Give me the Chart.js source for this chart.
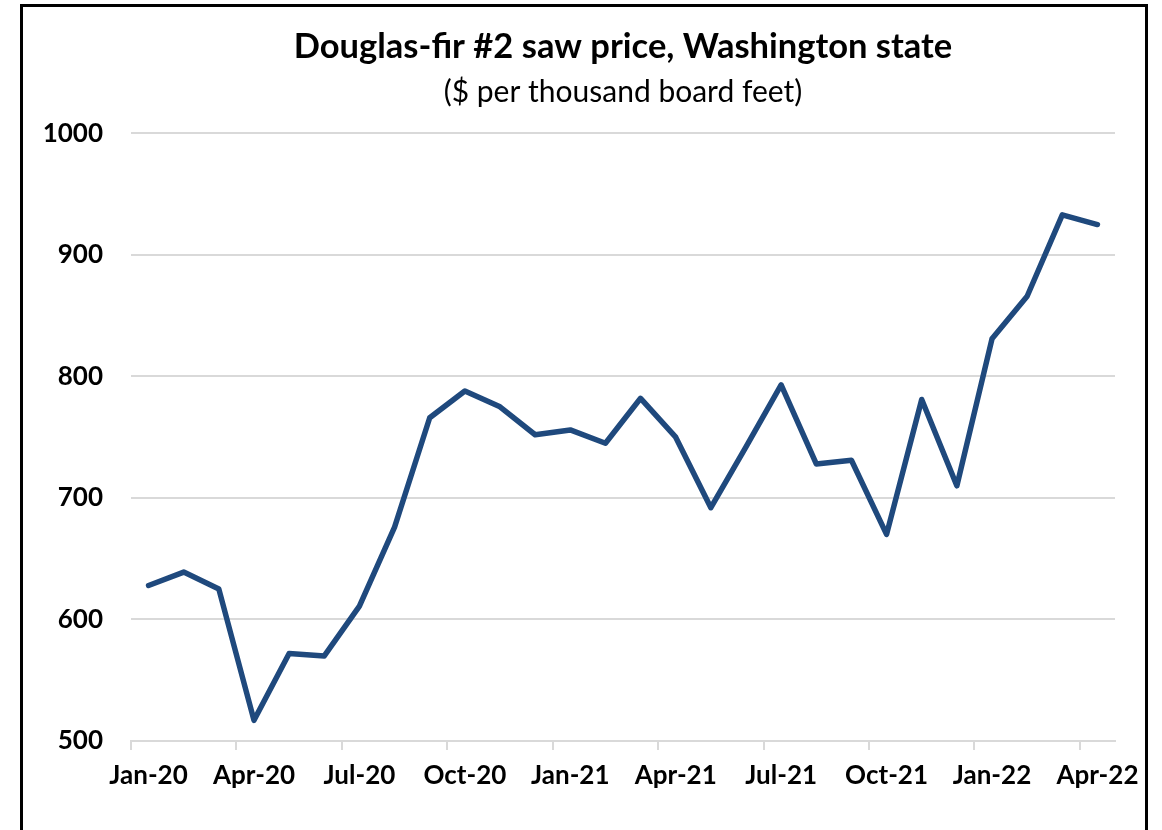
<!DOCTYPE html>
<html>
<head>
<meta charset="utf-8">
<script src="https://cdn.jsdelivr.net/npm/chart.js@4"></script>
<style>
  html, body { margin: 0; padding: 0; background: #fff; overflow: hidden; }
  #frame { position: absolute; left: 20px; top: 4px; width: 1128px; height: 900px; border: 3px solid #000; box-sizing: border-box; }
  #wrap { position: absolute; left: 0; top: 0; width: 1162px; height: 830px; }
</style>
</head>
<body>
<div id="frame"></div>
<div id="wrap"><canvas id="chart"></canvas></div>
<script>
const MONTHS = [
    'Jan-20', 'Feb-20', 'Mar-20', 'Apr-20', 'May-20', 'Jun-20', 'Jul-20', 'Aug-20', 'Sep-20', 'Oct-20', 'Nov-20', 'Dec-20',
    'Jan-21', 'Feb-21', 'Mar-21', 'Apr-21', 'May-21', 'Jun-21', 'Jul-21', 'Aug-21', 'Sep-21', 'Oct-21', 'Nov-21', 'Dec-21',
    'Jan-22', 'Feb-22', 'Mar-22', 'Apr-22'
];

// $ por mil pies tablares
const PRICES = [
    628, 639, 625, 517, 572, 570, 611, 676, 766, 788, 775, 752,
    756, 745, 782, 750, 692, 742, 793, 728, 731, 670, 781, 710,
    831, 866, 933, 925
];

const Y_MIN = 500, Y_MAX = 1000, Y_STEP = 100;

const COLORS = { linea: '#1F497D', grid: '#D9D9D9', texto: '#000000' };
const FONT = "Lato, 'Open Sans', sans-serif";

new Chart(document.getElementById('chart'), {
    type: 'line',
    data: {
        labels: MONTHS,
        datasets: [{
            data: PRICES,
            borderColor: COLORS.linea,
            borderWidth: 5.5,
            pointRadius: 0,
            tension: 0,
            borderJoinStyle: 'round',
            borderCapStyle: 'round'
        }]
    },
    options: {
        responsive: true,
        maintainAspectRatio: false,
        animation: false,
        layout: { padding: { left: 30, right: 47, top: 26, bottom: 0 } },
        plugins: {
            legend: { display: false },
            tooltip: { enabled: false },
            title: {
                display: true,
                fullSize: false,
                text: 'Douglas-fir #2 saw price, Washington state',
                color: COLORS.texto,
                font: { family: FONT, size: 34.5, weight: 'bold' },
                padding: { top: 0, bottom: 7 }
            },
            subtitle: {
                display: true,
                fullSize: false,
                text: '($ per thousand board feet)',
                color: COLORS.texto,
                font: { family: FONT, size: 30, weight: 'normal' },
                padding: { top: 0, bottom: 23 }
            }
        },
        scales: {
            x: {
                offset: true,
                border: { display: true, color: COLORS.grid, width: 2 },
                grid: {
                    offset: true,
                    drawOnChartArea: false,
                    drawTicks: true,
                    tickLength: 9,
                    lineWidth: 2,
                    color: ctx => (ctx.index % 3 === 0 ? COLORS.grid : 'rgba(0,0,0,0)')
                },
                ticks: {
                    autoSkip: false,
                    maxRotation: 0,
                    color: COLORS.texto,
                    font: { family: FONT, size: 26, weight: 'bold' },
                    padding: 10,
                    callback: (v, i) => (i % 3 === 0 ? MONTHS[i] : '')
                },
                afterFit: s => { s.height = 89; }
            },
            y: {
                min: Y_MIN,
                max: Y_MAX,
                border: { display: false },
                grid: { color: COLORS.grid, lineWidth: 2, drawTicks: false },
                ticks: {
                    stepSize: Y_STEP,
                    color: COLORS.texto,
                    font: { family: FONT, size: 26, weight: 'bold' },
                    padding: 28,
                    callback: v => String(v)
                },
                afterFit: s => { s.width = 101; }
            }
        }
    }
});
</script>
</body>
</html>
